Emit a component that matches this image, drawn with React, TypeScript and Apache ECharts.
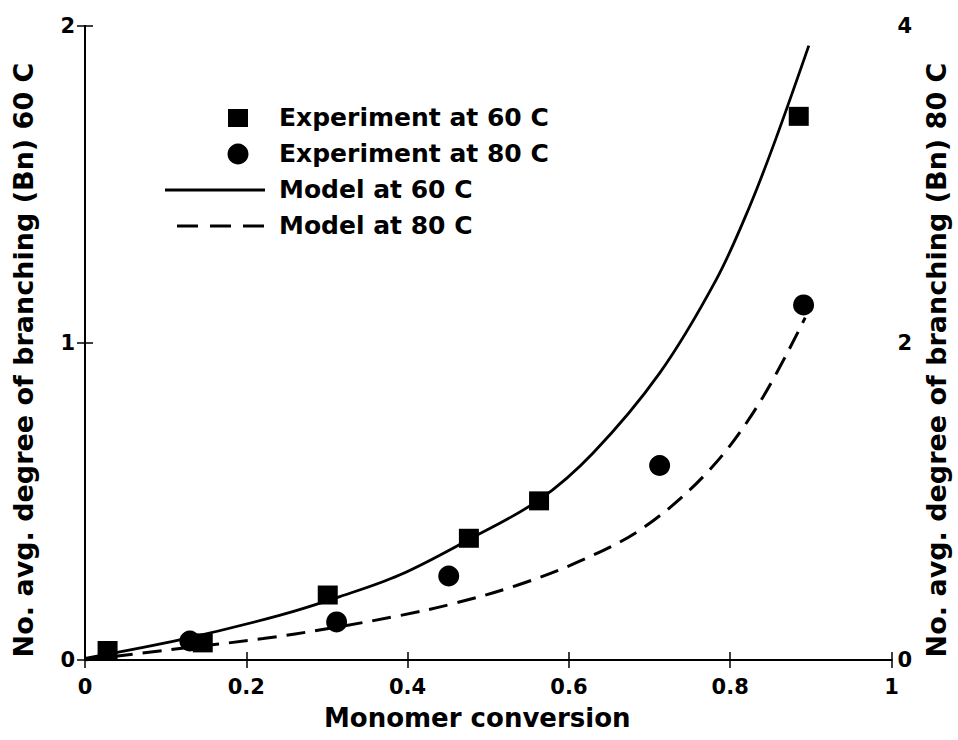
import React, { useEffect, useRef } from "react";
import * as echarts from "echarts";

// Measured branching (left axis, 60 C) and (right axis, 80 C)
const exp60: [number, number][] = [
  [0.028, 0.03],
  [0.146, 0.054],
  [0.301, 0.205],
  [0.476, 0.384],
  [0.563, 0.502],
  [0.885, 1.715],
];

const exp80: [number, number][] = [
  [0.13, 0.12],
  [0.312, 0.24],
  [0.451, 0.53],
  [0.7125, 1.227],
  [0.891, 2.24],
];

// Model predictions
const model60: [number, number][] = [
  [0, 0.005], [0.12, 0.065], [0.24, 0.14], [0.316, 0.2], [0.39, 0.268],
  [0.476, 0.38], [0.563, 0.505], [0.63, 0.653], [0.7125, 0.905],
  [0.7827, 1.2], [0.824, 1.43], [0.856, 1.64], [0.8975, 1.938],
];

const model80: [number, number][] = [
  [0, 0.0], [0.105, 0.065], [0.221, 0.135], [0.3, 0.197], [0.39, 0.28],
  [0.456, 0.355], [0.535, 0.47], [0.6155, 0.628], [0.694, 0.84],
  [0.7745, 1.2], [0.836, 1.62], [0.893, 2.16],
];

const legendLabels = [
  "Experiment at 60 C",
  "Experiment at 80 C",
  "Model at 60 C",
  "Model at 80 C",
];

const FONT = "'DejaVu Sans', 'Liberation Sans', Arial, sans-serif";
const INK = "#000";

export default function App() {
  const ref = useRef<HTMLDivElement>(null);

  useEffect(() => {
    if (!ref.current) return;
    const chart = echarts.init(ref.current, undefined, { renderer: "svg" });

    const tickStyle = { show: true, inside: true, length: 8, lineStyle: { color: INK, width: 1.5 } };
    const lineStyle = { show: true, lineStyle: { color: INK, width: 2 } };
    const labelStyle = { color: INK, fontFamily: FONT, fontWeight: "bold" as const, fontSize: 21 };
    const nameStyle = {
      color: INK,
      fontFamily: FONT,
      fontWeight: "bold" as const,
      fontSize: 27,
      padding: [0, 34, 0, 0],
    };

    const rowY = [118, 154, 190, 226];
    const legendText = legendLabels.map((t, i) => ({
      type: "text",
      left: 279,
      top: rowY[i] - 13,
      style: { text: t, fill: INK, font: `bold 25px ${FONT}` },
      z: 100,
    }));

    chart.setOption({
      animation: false,
      backgroundColor: "#fff",
      grid: { left: 85, right: 66, top: 26, bottom: 80, containLabel: false },
      xAxis: [
        {
          type: "value",
          min: 0,
          max: 1,
          interval: 0.2,
          position: "bottom",
          axisLine: lineStyle,
          axisTick: tickStyle,
          splitLine: { show: false },
          axisLabel: { ...labelStyle, margin: 16, formatter: (v: number) => (v === 0 || v === 1 ? String(v) : v.toFixed(1)) },
          name: "Monomer conversion",
          nameLocation: "middle",
          nameGap: 45,
          nameTextStyle: { ...nameStyle, fontSize: 26, padding: [0, 22, 0, 0] },
        },
        {
          type: "value",
          min: 0,
          max: 1,
          interval: 0.2,
          position: "top",
          axisLine: lineStyle,
          axisTick: tickStyle,
          splitLine: { show: false },
          axisLabel: { show: false },
        },
      ],
      yAxis: [
        {
          type: "value",
          min: 0,
          max: 2,
          interval: 1,
          position: "left",
          axisLine: lineStyle,
          axisTick: tickStyle,
          splitLine: { show: false },
          axisLabel: { ...labelStyle, margin: 10 },
          name: "No. avg. degree of branching (Bn) 60 C",
          nameLocation: "middle",
          nameRotate: 90,
          nameGap: 48,
          nameTextStyle: nameStyle,
        },
        {
          type: "value",
          min: 0,
          max: 4,
          interval: 2,
          position: "right",
          axisLine: lineStyle,
          axisTick: tickStyle,
          splitLine: { show: false },
          axisLabel: { ...labelStyle, margin: 6 },
          name: "No. avg. degree of branching (Bn) 80 C",
          nameLocation: "middle",
          nameRotate: 90,
          nameGap: 31,
          nameTextStyle: nameStyle,
        },
      ],
      series: [
        {
          name: "Model at 60 C",
          type: "line",
          xAxisIndex: 0,
          yAxisIndex: 0,
          data: model60,
          showSymbol: false,
          smooth: 0.35,
          lineStyle: { color: INK, width: 2.8 },
          z: 2,
        },
        {
          name: "Model at 80 C",
          type: "line",
          xAxisIndex: 0,
          yAxisIndex: 1,
          data: model80,
          showSymbol: false,
          smooth: 0.35,
          lineStyle: { color: INK, width: 3, type: [19, 10] },
          z: 2,
        },
        {
          name: "Experiment at 60 C",
          type: "scatter",
          xAxisIndex: 0,
          yAxisIndex: 0,
          data: exp60,
          symbol: "rect",
          symbolSize: [20, 19],
          itemStyle: { color: INK, opacity: 1 },
          clip: false,
          z: 3,
        },
        {
          name: "Experiment at 80 C",
          type: "scatter",
          xAxisIndex: 0,
          yAxisIndex: 1,
          data: exp80,
          symbol: "circle",
          symbolSize: 21,
          itemStyle: { color: INK, opacity: 1 },
          clip: false,
          z: 3,
        },
      ],
      graphic: [
        { type: "rect", shape: { x: 228, y: rowY[0] - 9, width: 20, height: 18 }, style: { fill: INK }, z: 100 },
        { type: "circle", shape: { cx: 238, cy: rowY[1], r: 10.5 }, style: { fill: INK }, z: 100 },
        { type: "line", shape: { x1: 165, y1: rowY[2], x2: 265, y2: rowY[2] }, style: { stroke: INK, lineWidth: 2.8 }, z: 100 },
        { type: "line", shape: { x1: 177, y1: rowY[3], x2: 265, y2: rowY[3] }, style: { stroke: INK, lineWidth: 3, lineDash: [21, 12] }, z: 100 },
        ...legendText,
      ],
    });

    return () => chart.dispose();
  }, []);

  return (
    <div
      ref={ref}
      style={{ position: "fixed", left: 0, top: 0, width: 958, height: 740, background: "#fff" }}
    />
  );
}
